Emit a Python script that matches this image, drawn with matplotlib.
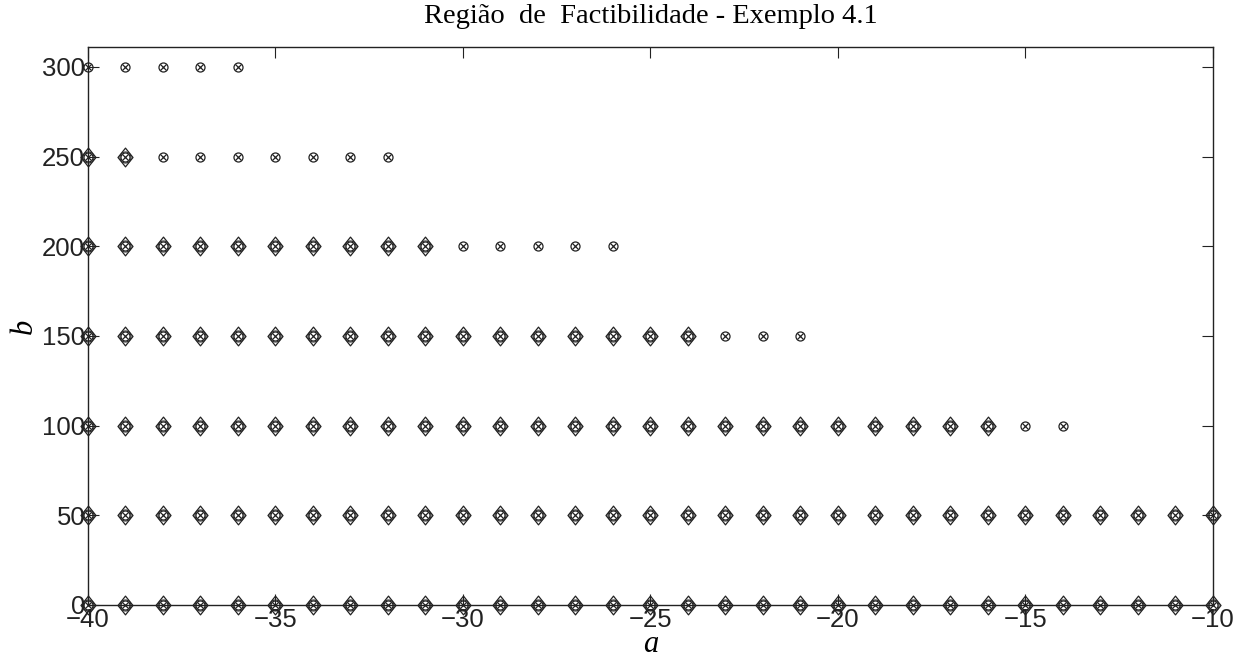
import matplotlib
matplotlib.use("Agg")
import matplotlib.pyplot as plt
from matplotlib.path import Path

# ─── Dados ────────────────────────────────────────────────────────────────────
A_MIN, A_MAX = -40, -10
B_LEVELS = [0, 50, 100, 150, 200, 250, 300]
# último valor de a factível (⊗) para cada b
FEAS_END = [-10, -10, -14, -21, -26, -32, -36]
# último valor de a marcado com losango para cada b (None = nenhum)
DIAM_END = [-10, -10, -16, -24, -31, -39, None]

XTICKS = [-40, -35, -30, -25, -20, -15, -10]
YTICKS = [0, 50, 100, 150, 200, 250, 300]

feas_a, feas_b, diam_a, diam_b = [], [], [], []
for b, fe, de in zip(B_LEVELS, FEAS_END, DIAM_END):
    for a in range(A_MIN, fe + 1):
        feas_a.append(a)
        feas_b.append(b)
    if de is not None:
        for a in range(A_MIN, de + 1):
            diam_a.append(a)
            diam_b.append(b)

# losango estilo MATLAB (mais alto que largo)
DIAMOND = Path([(0, 1), (0.8, 0), (0, -1), (-0.8, 0), (0, 1)],
               [Path.MOVETO, Path.LINETO, Path.LINETO, Path.LINETO, Path.CLOSEPOLY])

INK = "#222222"

# ─── Figura ──────────────────────────────────────────────────────────────────
fig = plt.figure(figsize=(12.41, 6.63), dpi=100)
ax = fig.add_axes([0.0709, 0.0875, 0.9065, 0.8415])

ax.plot(feas_a, feas_b, ls="none", marker="o", ms=6.5, mfc="none",
        mec=INK, mew=0.9, clip_on=False, zorder=3)
ax.plot(feas_a, feas_b, ls="none", marker="x", ms=4.0,
        mec=INK, mew=0.9, clip_on=False, zorder=3)
ax.plot(diam_a, diam_b, ls="none", marker=DIAMOND, ms=13.5, mfc="none",
        mec=INK, mew=0.9, clip_on=False, zorder=3)
ax.plot(diam_a, diam_b, ls="none", marker="o", ms=8.0, mfc="none",
        mec=INK, mew=0.7, clip_on=False, zorder=3)

ax.set_xlim(A_MIN, A_MAX)
ax.set_ylim(0, 311)
ax.set_xticks(XTICKS)
ax.set_yticks(YTICKS)
ax.set_xticklabels([f"\u2212{abs(t)}" for t in XTICKS])

for s in ax.spines.values():
    s.set_linewidth(1.0)
    s.set_color(INK)
ax.tick_params(direction="in", length=8, width=0.8, top=True, right=True,
               colors=INK, pad=2)
for lbl in ax.get_xticklabels() + ax.get_yticklabels():
    lbl.set_fontfamily("Liberation Sans")
    lbl.set_fontsize(18.5)

ax.set_title("Região  de  Factibilidade - Exemplo 4.1", family="Liberation Serif",
             fontsize=20.5, pad=17)
ax.set_xlabel("a", family="Liberation Serif", style="italic", fontsize=22, labelpad=-1)
ax.set_ylabel("b", family="Liberation Serif", style="italic", fontsize=22, labelpad=2)

fig.savefig("out.png", dpi=100, facecolor="white")
